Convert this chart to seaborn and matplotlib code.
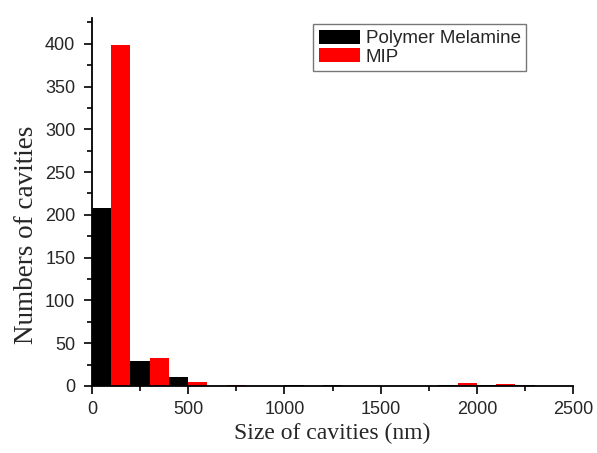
import numpy as np
import pandas as pd
import matplotlib
matplotlib.use("Agg")
import matplotlib.pyplot as plt
import seaborn as sns
from matplotlib.ticker import MultipleLocator
from matplotlib.patches import Patch

# Bin left edges (nm) and counts (bin width 100 nm)
pm_bins = [0, 200, 400, 1000, 1200, 1800, 2000, 2200]
pm_counts = [208, 29, 10, 1, 1, 0.6, 1, 0.6]
mip_bins = [100, 300, 500, 700, 1900, 2100]
mip_counts = [398, 33, 5, 1.5, 3, 2]
series_names = ["Polymer Melamine", "MIP"]
bin_edges = list(range(0, 2600, 100))

df = pd.concat([
    pd.DataFrame({"size": np.array(pm_bins) + 50, "count": pm_counts, "series": series_names[0]}),
    pd.DataFrame({"size": np.array(mip_bins) + 50, "count": mip_counts, "series": series_names[1]}),
])

sns.set_style("white")
fig = plt.figure(figsize=(5.97, 4.53), dpi=100)
ax = fig.add_axes([0.154, 0.148, 0.806, 0.812])

sns.histplot(data=df, x="size", weights="count", hue="series", bins=bin_edges,
             multiple="layer", palette={series_names[0]: "#000000", series_names[1]: "#ff0000"},
             alpha=1, linewidth=0, ax=ax, legend=False)

ax.set_xlim(0, 2500)
ax.set_ylim(0, 430)
ax.xaxis.set_major_locator(MultipleLocator(500))
ax.xaxis.set_minor_locator(MultipleLocator(250))
ax.yaxis.set_major_locator(MultipleLocator(50))
ax.yaxis.set_minor_locator(MultipleLocator(25))
ax.tick_params(axis="both", which="major", direction="out", length=6, width=1.2,
               labelsize=13, bottom=True, left=True, color="black")
ax.tick_params(axis="x", which="major", pad=5)
ax.tick_params(axis="y", which="major", pad=6)
ax.tick_params(axis="both", which="minor", direction="out", length=3.5, width=1.2,
               bottom=True, left=True, color="black")
for lab in ax.get_xticklabels() + ax.get_yticklabels():
    lab.set_family("Liberation Sans")

for side in ["top", "right"]:
    ax.spines[side].set_visible(False)
for side in ["left", "bottom"]:
    ax.spines[side].set_color("black")
    ax.spines[side].set_linewidth(1.3)

ax.set_xlabel("Size of cavities (nm)", family="Liberation Serif", fontsize=17)
ax.xaxis.set_label_coords(0.5, -0.1)
ax.set_ylabel("Numbers of cavities", family="Liberation Serif", fontsize=19.5)
ax.yaxis.set_label_coords(-0.11, 0.41)

handles = [Patch(facecolor="#000000", edgecolor="none"), Patch(facecolor="#ff0000", edgecolor="none")]
leg = ax.legend(handles, series_names, loc="upper left", bbox_to_anchor=(0.46, 0.983),
                prop={"family": "Liberation Sans", "size": 13.5}, frameon=True, fancybox=False,
                handlelength=2.2, handleheight=0.75, handletextpad=0.3, borderpad=0.3,
                labelspacing=0.05, borderaxespad=0)
leg.get_frame().set_edgecolor("#555555")
leg.get_frame().set_linewidth(1.0)

fig.savefig("out.png", dpi=100)
